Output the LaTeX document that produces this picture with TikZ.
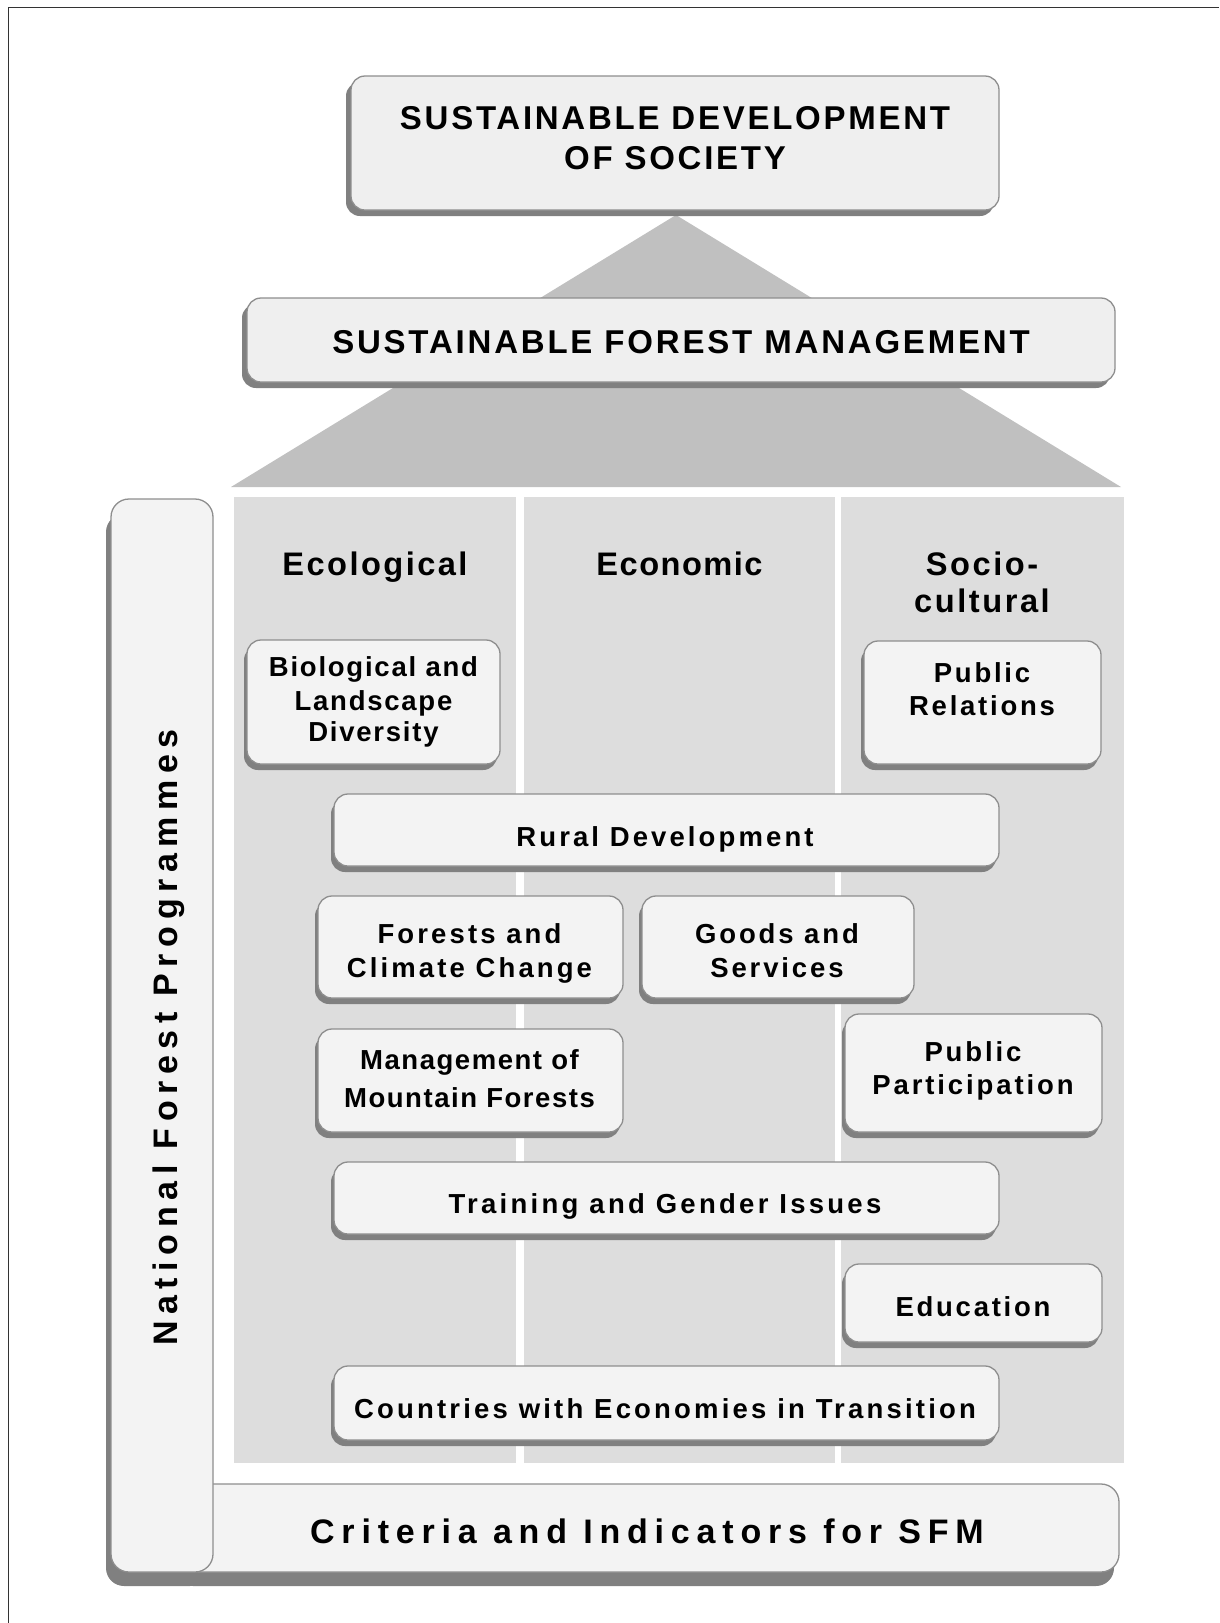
\documentclass[tikz,border=0pt]{standalone}
\usepackage{fontspec}
\setmainfont{Liberation Sans}
\definecolor{boxfill}{HTML}{F3F3F3}
\definecolor{topfill}{HTML}{EFEFEF}
\definecolor{boxline}{HTML}{8E8E8E}
\definecolor{shd}{HTML}{808080}
\definecolor{panel}{HTML}{DDDDDD}
\definecolor{tri}{HTML}{C0C0C0}
\definecolor{framec}{HTML}{333333}
\newcommand\LS[1]{\addfontfeature{LetterSpace=#1}}
% name, x1, y1, x2, y2, shadow dx (left), shadow dy (down), style
\newcommand\mkbox[8]{%
  \pgfmathsetmacro\bw{#4-#2}\pgfmathsetmacro\bh{#5-#3}%
  \fill[shd, rounded corners=14pt] (#2-#6,#3+#7) rectangle (#4-#6,#5+#7);
  \node[#8, minimum width=\bw pt, minimum height=\bh pt] (#1) at ({(#2+#4)/2},{(#3+#5)/2}) {};
}
\tikzset{
  box/.style={rectangle, rounded corners=14pt, fill=boxfill, draw=boxline, line width=1.3pt, inner sep=0pt, outer sep=0pt},
  topbox/.style={box, fill=topfill},
  txt/.style={anchor=base, inner sep=0pt, outer sep=0pt, text=black},
  fA/.style={font=\fontsize{33}{40}\selectfont\bfseries},
  fH/.style={font=\fontsize{32.6}{39}\selectfont\bfseries},
  fB/.style={font=\fontsize{27.5}{33}\selectfont\bfseries},
  fC/.style={font=\fontsize{34}{40}\selectfont\bfseries},
}
\begin{document}
\begin{tikzpicture}[x=1pt,y=-1pt]
\useasboundingbox (0,0) rectangle (1219,1623);
\fill[white] (0,0) rectangle (1219,1623);
% frame
\draw[framec, line width=1.5pt] (8.3,1623) -- (8.3,7.5) -- (1219,7.5);
% big triangle
\fill[tri] (676,215) -- (1121,487) -- (231,487) -- cycle;
% top boxes
\mkbox{sds}{351}{76}{999}{210}{5}{6}{topbox}
\mkbox{sfm}{247}{298}{1115}{382}{5}{6}{topbox}
% column panels
\fill[panel] (234,497) rectangle (516,1463);
\fill[panel] (524,497) rectangle (835,1463);
\fill[panel] (841,497) rectangle (1124,1463);
% L-shaped frame: NFP bar and C&I box
\fill[shd, rounded corners=18pt] (106,514) rectangle (208,1586);
\fill[shd, rounded corners=18pt] (175,1499) rectangle (1114,1586);
\node[box, rounded corners=18pt, minimum width=939pt, minimum height=88pt] (cis) at (649.5,1528) {};
\node[box, rounded corners=18pt, minimum width=102pt, minimum height=1073pt] (nfp) at (162,1035.5) {};
% inner boxes
\mkbox{bio}{247}{640}{500}{764}{3}{6}{box}
\mkbox{pr}{864}{641}{1101}{764}{3}{6}{box}
\mkbox{rural}{334}{794}{999}{866}{3}{6}{box}
\mkbox{fcc}{318}{896}{623}{998}{3}{6}{box}
\mkbox{gs}{642}{896}{914}{998}{3}{6}{box}
\mkbox{mmf}{318}{1029}{623}{1132}{3}{6}{box}
\mkbox{pp}{845}{1014}{1102}{1132}{3}{6}{box}
\mkbox{tgi}{334}{1162}{999}{1234}{3}{6}{box}
\mkbox{edu}{845}{1264}{1102}{1342}{3}{6}{box}
\mkbox{cet}{334}{1366}{999}{1440}{3}{6}{box}
% texts
\node[txt,fA] (sdsA) at (675,129.8) {\LS{8.3}SUSTAINABLE DEVELOPMENT};
\node[txt,fA] (sdsB) at (675,169.1) {\LS{8.3}OF SOCIETY};
\node[txt,fA] (sfmA) at (681,353.3) {\LS{8.5}SUSTAINABLE FOREST MANAGEMENT};
\node[txt,fH] (hEco) at (375,575.7) {\LS{7.5}Ecological};
\node[txt,fH] (hEcn) at (679.5,575.7) {\LS{4.5}Economic};
\node[txt,fH] (hSocA) at (982,575.7) {\LS{7.8}Socio-};
\node[txt,fH] (hSocB) at (982,612.7) {\LS{7.8}cultural};
\node[txt,fB] (bioA) at (373.5,676.1) {\LS{6.4}Biological and};
\node[txt,fB] (bioB) at (373.5,710.7) {\LS{6.4}Landscape};
\node[txt,fB] (bioC) at (373.5,741.6) {\LS{6.4}Diversity};
\node[txt,fB] (prA) at (982,682.5) {\LS{10}Public};
\node[txt,fB] (prB) at (982,715.6) {\LS{10}Relations};
\node[txt,fB] (ruralA) at (665,846.6) {\LS{11.3}Rural Development};
\node[txt,fB] (fccA) at (469.5,943.2) {\LS{11.3}Forests and};
\node[txt,fB] (fccB) at (469.5,977.7) {\LS{11.3}Climate Change};
\node[txt,fB] (gsA) at (777,943.2) {\LS{10.4}Goods and};
\node[txt,fB] (gsB) at (777,977.7) {\LS{10.4}Services};
\node[txt,fB] (mmfA) at (469.5,1069.9) {\LS{5.6}Management of};
\node[txt,fB] (mmfB) at (469.5,1107.9) {\LS{5.6}Mountain Forests};
\node[txt,fB] (ppA) at (973,1061.6) {\LS{10.5}Public};
\node[txt,fB] (ppB) at (973,1094.9) {\LS{10.5}Participation};
\node[txt,fB] (tgiA) at (665,1213.4) {\LS{11.9}Training and Gender Issues};
\node[txt,fB] (eduA) at (973,1316.6) {\LS{10}Education};
\node[txt,fB] (cetA) at (665,1418.9) {\LS{11.6}Countries with Economies in Transition};
\node[txt,fC] (cisA) at (647,1543.7) {\LS{20}Criteria and Indicators for SFM};
\node[txt,fC,rotate=90] (nfpA) at (177.8,1037.4) {\LS{19.4}National Forest Programmes};
\end{tikzpicture}
\end{document}
